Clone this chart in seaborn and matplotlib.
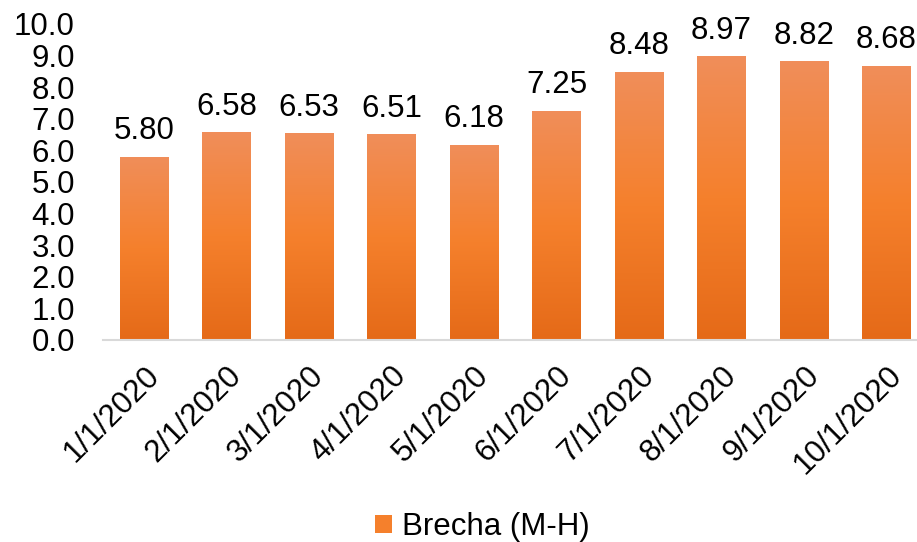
import numpy as np
import pandas as pd
import matplotlib
matplotlib.use("Agg")
import matplotlib.pyplot as plt
import seaborn as sns
from matplotlib.colors import LinearSegmentedColormap
from matplotlib.patches import Patch

# --- Data ---
fechas = ["1/1/2020", "2/1/2020", "3/1/2020", "4/1/2020", "5/1/2020",
          "6/1/2020", "7/1/2020", "8/1/2020", "9/1/2020", "10/1/2020"]
brecha = [5.80, 6.58, 6.53, 6.51, 6.18, 7.25, 8.48, 8.97, 8.82, 8.68]
serie = "Brecha (M-H)"

df = pd.DataFrame({"Fecha": fechas, "Brecha": brecha})

sns.set_style("white")
plt.rcParams["font.family"] = ["Liberation Sans", "DejaVu Sans"]
fs = 22.5

fig = plt.figure(figsize=(9.17, 5.42), dpi=100)
ax = fig.add_axes([0.112, 0.373, 0.888, 0.583])

sns.barplot(x="Fecha", y="Brecha", data=df, color="#F5812E", width=0.59, ax=ax)

# vertical gradient on each bar (light top -> darker bottom)
cmap = LinearSegmentedColormap.from_list("naranja", ["#E56A18", "#F5802C", "#F08E5A"])
grad = np.linspace(0, 1, 256).reshape(-1, 1)
for bar in ax.patches:
    x0, y0 = bar.get_x(), bar.get_y()
    w, h = bar.get_width(), bar.get_height()
    im = ax.imshow(grad, cmap=cmap, aspect="auto", origin="lower",
                   extent=[x0, x0 + w, y0, y0 + h], zorder=bar.get_zorder() + 0.1)
    im.set_clip_path(bar)

# data labels
for i, v in enumerate(brecha):
    ax.text(i, v + 0.55, f"{v:.2f}", ha="center", va="baseline", fontsize=fs, color="black")

ax.set_xlim(-0.5, 9.37)
ax.set_ylim(0, 10)
ax.set_yticks(np.arange(0, 10.1, 1.0))
ax.set_yticklabels([f"{t:.1f}" for t in np.arange(0, 10.1, 1.0)], fontsize=fs)
ax.set_xticks(range(len(fechas)))
ax.set_xticklabels(fechas, rotation=45, ha="right", rotation_mode="anchor", fontsize=fs)
ax.tick_params(axis="y", length=0, pad=20, labelcolor="black")
ax.tick_params(axis="x", length=0, pad=15, labelcolor="black")
ax.set_xlabel("")
ax.set_ylabel("")

for s in ["top", "right", "left"]:
    ax.spines[s].set_visible(False)
ax.spines["bottom"].set_color("#D9D9D9")
ax.spines["bottom"].set_linewidth(1.5)
ax.spines["bottom"].set_zorder(5)

handle = Patch(facecolor="#F5802C", edgecolor="none")
fig.legend([handle], [serie], loc="lower center", bbox_to_anchor=(0.526, -0.052),
           frameon=False, fontsize=fs, handlelength=0.55, handleheight=0.55,
           handletextpad=0.3, labelcolor="black")

fig.savefig("out.png", dpi=100)
